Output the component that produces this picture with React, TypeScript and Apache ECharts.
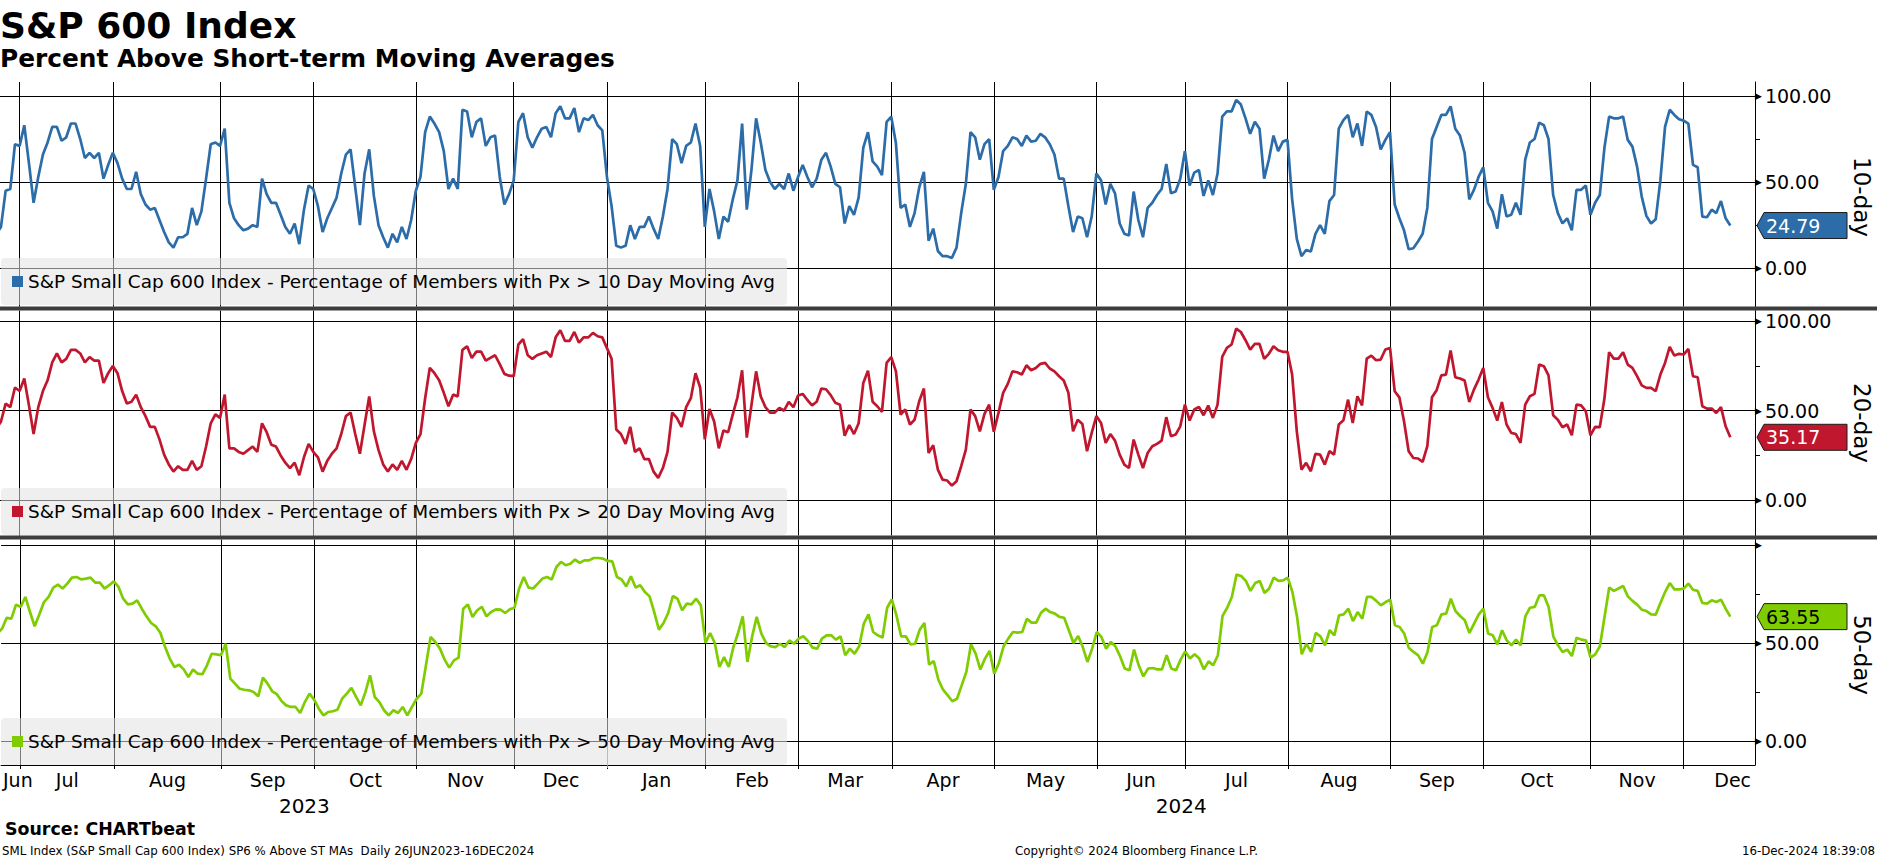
import { useEffect, useRef } from "react";
import * as echarts from "echarts";

const FONT = "DejaVu Sans";
const W = 1877;
const H = 859;
const PLOT_R = 1755; // right edge of the three plot areas

// NYSE holidays inside the window (used to build the trading-day axis)
const HOLIDAYS = [
  "2023-07-04", "2023-09-04", "2023-11-23", "2023-12-25",
  "2024-01-01", "2024-01-15", "2024-02-19", "2024-03-29", "2024-05-27",
  "2024-06-19", "2024-07-04", "2024-09-02", "2024-11-28", "2024-12-25",
];

// % of members above the 10 / 20 / 50 day MA, one value per trading day from 26JUN2023
const TEN_DAY = [
  20, 24, 45, 46, 72, 71, 83, 61, 38, 53,
  66, 73, 82, 82, 74, 76, 84, 84, 75, 64,
  67, 64, 67, 52, 60, 67, 61, 52, 46, 46,
  56, 43, 37, 34, 35, 28, 21, 15, 12, 18,
  18, 20, 35, 25, 33, 52, 72, 73, 71, 81,
  38, 29, 25, 22, 23, 25, 24, 52, 43, 38,
  38, 31, 24, 20, 26, 14, 34, 48, 46, 36,
  21, 29, 35, 41, 55, 66, 69, 47, 25, 55,
  69, 42, 25, 18, 12, 20, 15, 24, 17, 28,
  45, 53, 79, 88, 84, 79, 68, 46, 52, 46,
  92, 91, 76, 85, 87, 71, 76, 77, 53, 37,
  43, 51, 85, 90, 76, 70, 76, 81, 82, 76,
  90, 94, 87, 87, 93, 79, 87, 86, 89, 83,
  80, 53, 36, 13, 12, 13, 25, 17, 24, 24,
  30, 23, 17, 30, 46, 75, 72, 61, 71, 73,
  84, 71, 24, 46, 33, 17, 30, 27, 40, 51,
  84, 34, 57, 87, 73, 57, 50, 46, 49, 46,
  55, 45, 53, 60, 53, 47, 52, 63, 67, 59,
  49, 47, 26, 36, 31, 41, 70, 79, 62, 59,
  54, 85, 88, 72.5, 35, 37, 24, 32, 47, 56,
  16, 23, 10, 7, 7, 6, 12, 32, 49, 79,
  76, 63, 72, 75, 45.5, 53, 68, 71, 76, 75,
  71, 77, 73.5, 74, 78, 76, 72, 66, 52, 52,
  36, 21, 30, 29, 18, 30, 55, 51, 37, 49,
  43.5, 26, 20, 19, 44.5, 28, 18, 35, 38, 42.5,
  46, 60.5, 43.5, 44.5, 52, 68, 48, 55.5, 57, 42,
  51, 42.5, 55, 88, 91, 91, 97.7, 95, 87, 78,
  85, 81, 52, 63, 77, 68, 73.5, 74.5, 40, 17,
  7, 10.6, 9.7, 20, 25, 20, 39, 42.5, 81, 86,
  89, 76, 84, 71, 91, 89, 82, 69, 74.5, 79,
  37, 29, 22, 11, 11.6, 15.5, 20, 35, 75, 82,
  89, 89, 94, 81, 77, 67, 40, 45.5, 53, 58.6,
  38, 33, 23, 43, 30, 31, 38, 31, 63, 73,
  75, 84.5, 83, 75, 42.5, 32, 26, 29, 22, 45.5,
  45.5, 48, 31, 38, 42.5, 70, 88, 87, 87, 88,
  74.5, 70.6, 59, 41.6, 30.4, 26, 28.4, 51, 82, 92,
  89, 86.5, 85.7, 84, 60, 58.6, 30, 29.6, 34, 32,
  39, 29, 24.79,
];

const TWENTY_DAY = [
  40, 44, 54, 52, 63, 61, 68, 53, 37, 52,
  61, 67, 77, 82, 77, 79, 84, 84, 82, 77,
  80, 78, 78, 65.5, 71, 75, 71, 61, 54, 55,
  59, 52, 47, 41, 41, 34, 25.5, 20, 16, 19,
  17, 17, 22, 17, 19, 30, 43, 48, 46, 59,
  29, 29, 27, 26, 28, 30, 27, 43, 38, 31,
  30, 25, 21, 18, 21, 14, 24, 31.5, 27, 24,
  16, 22, 26, 29, 37, 47, 49, 37, 26, 42,
  58, 38.5, 28, 20, 16, 20, 17, 22, 17, 23,
  32, 37, 57, 74, 71, 67, 60, 52.5, 59, 58,
  84, 86, 79.5, 83, 83, 78, 79.5, 81, 76, 70.6,
  69.6, 69.3, 87, 90, 81, 79, 81, 82, 83, 80,
  91, 95, 89, 89, 94, 88, 91, 91, 93.5, 91.6,
  91, 85, 79, 39.5, 37, 31.5, 41, 27, 29, 23,
  23, 16, 12.5, 18, 27, 49, 46, 41, 52, 57,
  71, 63, 34, 51, 44, 29, 39, 38, 48, 57.5,
  72.6, 35, 53, 72, 58, 52, 49, 49, 51.6, 50,
  55, 52, 58.5, 59.4, 56, 53, 55, 62.4, 62, 58.7,
  54.4, 53.4, 36, 42, 37, 43, 65.5, 72.4, 55, 52.5,
  49.3, 76.7, 79.9, 72, 47.9, 50.7, 42.3, 45, 55.3, 62.4,
  26.4, 30.7, 17.1, 11.5, 11, 8.2, 10.6, 19, 28.3, 50.7,
  47, 38.5, 48.2, 53.4, 38.2, 48.8, 60, 65, 72, 71.5,
  70.2, 75.4, 72.6, 73.9, 76.2, 76.7, 73.6, 72, 69.3, 66.9,
  60, 38.5, 45, 42.6, 27.4, 37.6, 47, 43.2, 32, 37,
  33.3, 25.5, 19.9, 18, 33.9, 25.5, 18, 26.4, 30.2, 31.5,
  33.3, 46.4, 35.8, 36.7, 41.3, 53.4, 44.5, 50.7, 52.1, 47.5,
  52.9, 46, 53.4, 80.1, 85.1, 87, 95.9, 94, 89.4, 84.2,
  87.3, 87.3, 79, 81.8, 86, 83.8, 82.9, 82.9, 70.2, 38.5,
  17.1, 20.9, 16.2, 25.9, 25.5, 19.9, 27.4, 25.5, 42.3, 44.7,
  56.2, 43.2, 58.1, 53, 79.1, 80.8, 78.2, 78.6, 84.2, 85.1,
  60.9, 57.5, 44.1, 27.4, 23.6, 23.3, 21.4, 30.2, 57.5, 61.5,
  69.8, 70.2, 83.6, 68.7, 68, 66.9, 54.9, 61.8, 67.4, 73.9,
  57.5, 51.6, 44.5, 54.9, 42.3, 37.6, 37, 32, 53.4, 58.1,
  59.4, 75.8, 74.9, 69.8, 47.5, 45, 40.8, 42.3, 36.3, 53.4,
  53, 49.7, 36.3, 41, 40.8, 56.8, 82.7, 79.1, 79.1, 82.7,
  75.8, 73.9, 69.3, 64.2, 62.8, 62.8, 60.9, 70.2, 76.7, 85.7,
  80.8, 81.8, 81.4, 84.5, 69.3, 68.7, 52.5, 51.2, 51.2, 48.8,
  52, 41.3, 35.17,
];

const FIFTY_DAY = [
  55, 57.4, 62.9, 62.5, 69.7, 68.5, 73.6, 65.9, 58.6, 64.6,
  71, 73.6, 78.4, 79.9, 77.9, 80.4, 83.5, 83.8, 82.6, 83,
  83.5, 80.9, 80.9, 77.9, 79.6, 81.6, 78.7, 72.7, 69.8, 70.2,
  71.9, 67.6, 63.7, 60.3, 58.6, 55.2, 48, 42.1, 37.8, 39,
  36.6, 32.7, 36.5, 34.4, 34.1, 38.7, 44.6, 44.3, 43.8, 49.7,
  31.9, 29.3, 26.7, 26.2, 25.9, 25, 22.8, 32.4, 29.3, 25.4,
  23.9, 20.4, 18.2, 17.4, 17.4, 14.3, 19.9, 24.2, 21.1, 16.5,
  13.1, 14.8, 15.2, 16, 21.6, 24.2, 27.1, 22.5, 18.2, 25,
  33.6, 22.5, 19.9, 15.7, 13.1, 15.7, 14.3, 17.4, 13.1, 17.4,
  21.6, 24.2, 38.7, 53.2, 50.6, 47.2, 41.6, 37.5, 41.2, 42.6,
  67.6, 69.7, 63.4, 66.8, 68.5, 63.7, 65.9, 67.3, 67.1, 65.4,
  67.3, 68.1, 77.9, 83.8, 78.4, 77.9, 80.4, 83, 83.8, 82.5,
  88.9, 91.5, 89.8, 90.6, 92.7, 91, 92.3, 92.3, 93.5, 93.5,
  93.2, 92, 91.8, 83.8, 82.5, 79, 84.2, 78.4, 79.6, 76.1,
  73.9, 65.9, 56.9, 60.3, 65.4, 74.1, 72.7, 66.8, 70.2, 69.8,
  72.7, 69.3, 50.1, 55.2, 50.1, 37.8, 42.9, 37.8, 48, 55.2,
  63.7, 40.4, 53.2, 63.4, 54.9, 50.1, 48.4, 48, 49.7, 48,
  51.4, 49.7, 52.3, 53.5, 51.1, 47.7, 47.2, 52.3, 54, 54,
  51.8, 53.5, 43.8, 47.2, 44.6, 48.4, 60, 64.7, 55.7, 54,
  52.8, 68.1, 72.4, 64.2, 53.5, 53.5, 49.4, 49.7, 56.9, 60.3,
  39, 40.9, 31.3, 26.2, 23.3, 20.3, 21.6, 28.4, 35.3, 49.4,
  44.6, 36.5, 42.1, 46, 34.4, 39.9, 48.4, 52.3, 55.7, 55.4,
  55.7, 62.5, 60.5, 60.5, 65.4, 67.6, 65.9, 65.1, 63.4, 63,
  56.6, 50.1, 53.7, 48, 40.4, 47.2, 55.7, 53.2, 47.2, 50.6,
  48.4, 43.3, 37, 36.1, 46.7, 38.7, 33, 37, 37.3, 36.6,
  36.6, 43.8, 37, 36.1, 41.6, 45.8, 42.1, 44.3, 42.1, 36.6,
  40.7, 38.7, 43.8, 63.9, 68.1, 73.6, 85, 84.3, 81.8, 76.7,
  80.7, 81.8, 75.6, 77.9, 83.5, 81.8, 82.1, 83.5, 76.1, 63.4,
  44.3, 49.7, 45.5, 55.2, 53.5, 48.9, 56.6, 54, 64.2, 64.7,
  67.6, 61.3, 65.9, 62.5, 73.6, 73.6, 71.6, 69.3, 71, 72.2,
  59.1, 58.3, 54.9, 47.5, 45.5, 43.8, 39.5, 45.5, 58.3, 59.1,
  64.7, 65.1, 72.7, 66.4, 63.9, 61.7, 55.2, 60, 64.7, 67.6,
  54.9, 54, 49.4, 56.6, 51.4, 48.9, 51.8, 48.9, 63.7, 68.1,
  68.5, 74.4, 74.4, 68.5, 53.5, 48.9, 45.5, 46.7, 43.4, 52.8,
  51.8, 51.4, 42.6, 44.3, 48.4, 63.4, 78.4, 76.7, 77.9, 79.2,
  73.9, 71.6, 69.7, 67.1, 66.4, 64.7, 64.6, 70.5, 76.1, 80.7,
  77.5, 77.5, 77.9, 80.4, 77.3, 76.7, 70.5, 70.2, 71.9, 71,
  72.2, 67.6, 63.55,
];

const SERIES = [TEN_DAY, TWENTY_DAY, FIFTY_DAY];
const SERIES_NAMES = [
  "S&P Small Cap 600 Index - Percentage of Members with Px > 10 Day Moving Avg",
  "S&P Small Cap 600 Index - Percentage of Members with Px > 20 Day Moving Avg",
  "S&P Small Cap 600 Index - Percentage of Members with Px > 50 Day Moving Avg",
];
const SIDE_LABELS = ["10-day", "20-day", "50-day"];
const COLORS = ["#2b6ca9", "#c0172e", "#7fcc00"];
const BADGE_TEXT = ["#ffffff", "#ffffff", "#000000"];
const MONTHS = ["Jan", "Feb", "Mar", "Apr", "May", "Jun", "Jul", "Aug", "Sep", "Oct", "Nov", "Dec"];
const Y_TICKS = [0, 50, 100];
const Y_MINOR = [25, 75];

// panel layout (px) and y ranges
const PANELS = [
  { top: 82, bottom: 306.5, min: -22.2, max: 108.1, legendTop: 258, sideY: 197 },
  { top: 310.5, bottom: 535.5, min: -19.7, max: 106.0, legendTop: 488, sideY: 423 },
  { top: 539.5, bottom: 765, min: -12.26, max: 102.96, legendTop: 718, sideY: 655 },
];
const X_MIN = 0.79;
const X_MAX = 377.3;

function tradingDays(from: string, to: string): string[] {
  const out: string[] = [];
  const d = new Date(from + "T00:00:00Z");
  const end = new Date(to + "T00:00:00Z");
  while (d <= end) {
    const wd = d.getUTCDay();
    const s = d.toISOString().slice(0, 10);
    if (wd !== 0 && wd !== 6 && !HOLIDAYS.includes(s)) out.push(s);
    d.setUTCDate(d.getUTCDate() + 1);
  }
  return out;
}

const DATES = tradingDays("2023-06-26", "2024-12-31");

const monthStarts: number[] = [];
DATES.forEach((d, i) => {
  if (i > 0 && d.slice(0, 7) !== DATES[i - 1].slice(0, 7)) monthStarts.push(i);
});
const bounds = [0, ...monthStarts, DATES.length];
const monthLabels = bounds.slice(0, -1).map((s, k) => {
  const mid = (s + bounds[k + 1]) / 2;
  return {
    pos: Math.min(Math.max(mid, X_MIN + 3.6), X_MAX - 4),
    name: MONTHS[Number(DATES[s].slice(5, 7)) - 1],
  };
});
const yearStart = DATES.findIndex((d) => d.startsWith("2024"));
const yearLabels = [
  { pos: (X_MIN + yearStart) / 2, name: "2023" },
  { pos: (yearStart + X_MAX) / 2, name: "2024" },
];

const nameAt = (list: { pos: number; name: string }[], v: number) =>
  (list.find((l) => Math.abs(l.pos - v) < 0.01) || { name: "" }).name;

function buildOption() {
  const black = { color: "#000", width: 1 };
  const xAxes: any[] = PANELS.map((_, k) => ({
    type: "value",
    gridIndex: k,
    min: X_MIN,
    max: X_MAX,
    axisLine: { show: k === 2, onZero: false, lineStyle: black },
    axisTick: { show: k === 2, customValues: monthStarts, length: 4, lineStyle: black },
    axisLabel:
      k === 2
        ? {
            show: true,
            customValues: monthLabels.map((m) => m.pos),
            formatter: (v: number) => nameAt(monthLabels, v),
            fontSize: 19,
            fontFamily: FONT,
            color: "#000",
            margin: 5,
          }
        : { show: false },
    splitLine: { show: true, lineStyle: black },
  }));
  xAxes.push({
    type: "value",
    gridIndex: 2,
    position: "bottom",
    offset: 25,
    min: X_MIN,
    max: X_MAX,
    axisLine: { show: false },
    axisTick: { show: true, customValues: [yearStart], length: 27, lineStyle: { color: "#8c8c8c", width: 1 } },
    axisLabel: {
      show: true,
      customValues: yearLabels.map((y) => y.pos),
      formatter: (v: number) => nameAt(yearLabels, v),
      fontSize: 20,
      fontFamily: FONT,
      color: "#000",
      margin: 6,
    },
    splitLine: { show: false },
  });

  const yAxes: any[] = PANELS.map((p, k) => ({
    type: "value",
    gridIndex: k,
    position: "right",
    min: p.min,
    max: p.max,
    axisLine: { show: true, onZero: false, lineStyle: black },
    axisTick: { show: false, customValues: Y_TICKS },
    axisLabel: {
      show: true,
      customValues: Y_TICKS,
      margin: 0,
      formatter: (v: number) => (k === 2 && v === 100 ? "{a|▶}" : `{a|▶}{t|${v.toFixed(2)}}`),
      rich: {
        a: { fontSize: 9, color: "#000", padding: [0, 3, 0, 0], verticalAlign: "middle" },
        t: { fontSize: 19, color: "#000", fontFamily: FONT, verticalAlign: "middle" },
      },
    },
    splitLine: { show: true, lineStyle: black },
  }));
  PANELS.forEach((p, k) =>
    yAxes.push({
      type: "value",
      gridIndex: k,
      position: "right",
      min: p.min,
      max: p.max,
      axisLine: { show: false },
      axisTick: { show: true, customValues: Y_MINOR, length: 5, lineStyle: black },
      axisLabel: { show: false },
      splitLine: { show: false },
    })
  );

  const foot = { fontSize: 11.8, fontWeight: "normal", lineHeight: 14, color: "#000", fontFamily: FONT };
  return {
    animation: false,
    backgroundColor: "#fff",
    textStyle: { fontFamily: FONT },
    title: [
      { text: "S&P 600 Index", left: 0, top: 5, padding: 0, textStyle: { fontSize: 36, fontWeight: "bold", lineHeight: 40, color: "#000", fontFamily: FONT } },
      { text: "Percent Above Short-term Moving Averages", left: 0, top: 44, padding: 0, textStyle: { fontSize: 24.8, fontWeight: "bold", lineHeight: 28, color: "#000", fontFamily: FONT } },
      { text: "Source: CHARTbeat", left: 5, top: 819, padding: 0, textStyle: { fontSize: 17.4, fontWeight: "bold", lineHeight: 20, color: "#000", fontFamily: FONT } },
      { text: "SML Index (S&P Small Cap 600 Index) SP6 % Above ST MAs  Daily 26JUN2023-16DEC2024", left: 2, top: 844, padding: 0, textStyle: foot },
      { text: "Copyright© 2024 Bloomberg Finance L.P.", left: 1015, top: 844, padding: 0, textStyle: foot },
      { text: "16-Dec-2024 18:39:08", right: 2, top: 844, padding: 0, textStyle: foot },
    ],
    legend: SERIES_NAMES.map((name, k) => ({
      data: [name],
      left: 1,
      top: PANELS[k].legendTop,
      orient: "horizontal",
      backgroundColor: "rgba(226,226,226,0.55)",
      borderRadius: 4,
      padding: [13, 12, 13, 11],
      icon: "rect",
      itemWidth: 11,
      itemHeight: 11,
      selectedMode: false,
      textStyle: { fontSize: 18.4, color: "#000", fontFamily: FONT, lineHeight: 21 },
    })),
    grid: PANELS.map((p) => ({ left: 0, width: PLOT_R, top: p.top, height: p.bottom - p.top })),
    xAxis: xAxes,
    yAxis: yAxes,
    series: SERIES.map((vals, k) => ({
      name: SERIES_NAMES[k],
      type: "line",
      xAxisIndex: k,
      yAxisIndex: k,
      data: vals.map((v, i) => [i, v]),
      showSymbol: false,
      symbol: "none",
      clip: true,
      silent: true,
      z: 3,
      lineStyle: { color: COLORS[k], width: 2.7 },
      itemStyle: { color: COLORS[k] },
    })),
  };
}

function buildGraphic(chart: echarts.ECharts) {
  const items: any[] = [];
  // panel separators
  [PANELS[0].bottom, PANELS[1].bottom].forEach((y) =>
    items.push({ type: "rect", z: 50, shape: { x: 0, y, width: W, height: 4 }, style: { fill: "#3d3d3d" } })
  );
  SERIES.forEach((vals, k) => {
    const last = vals[vals.length - 1];
    const y = chart.convertToPixel({ yAxisIndex: k }, last) as number;
    const x0 = PLOT_R + 2;
    items.push({
      type: "polygon",
      z: 60,
      shape: { points: [[x0, y], [x0 + 7, y - 13], [x0 + 90, y - 13], [x0 + 90, y + 13], [x0 + 7, y + 13]] },
      style: { fill: COLORS[k], stroke: "#1a1a1a", lineWidth: 1 },
    });
    items.push({
      type: "text",
      z: 61,
      x: x0 + 9,
      y,
      style: {
        text: last.toFixed(2),
        fill: BADGE_TEXT[k],
        font: `19px '${FONT}'`,
        textVerticalAlign: "middle",
        verticalAlign: "middle",
      },
    });
    items.push({
      type: "text",
      z: 61,
      x: 1862,
      y: PANELS[k].sideY,
      rotation: -Math.PI / 2,
      style: {
        text: SIDE_LABELS[k],
        fill: "#000",
        font: `23px '${FONT}'`,
        textAlign: "center",
        align: "center",
        textVerticalAlign: "middle",
        verticalAlign: "middle",
      },
    });
  });
  return items;
}

export default function App() {
  const ref = useRef<HTMLDivElement>(null);

  useEffect(() => {
    document.body.style.margin = "0";
    if (!ref.current) return;
    const chart = echarts.init(ref.current, null, { renderer: "svg" });
    chart.setOption(buildOption() as any);
    chart.setOption({ graphic: buildGraphic(chart) } as any);
    return () => {
      chart.dispose();
    };
  }, []);

  return <div ref={ref} style={{ width: W, height: H }} />;
}
